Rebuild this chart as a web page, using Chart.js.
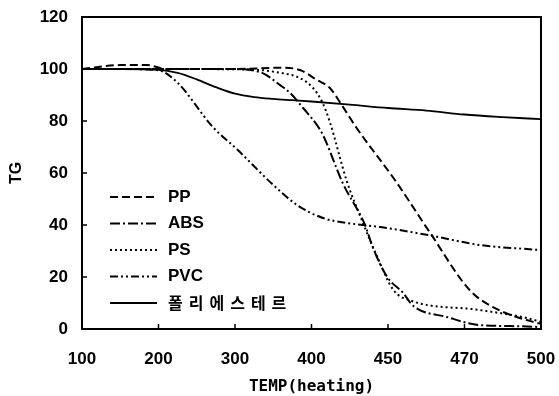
<!DOCTYPE html>
<html>
<head>
<meta charset="utf-8">
<script src="https://cdn.jsdelivr.net/npm/chart.js@4.4.1/dist/chart.umd.min.js"></script>
<style>
    html, body { margin: 0; padding: 0; background: #fff; }
    #wrap { width: 559px; height: 396px; }
</style>
</head>
<body>
<div id="wrap"><canvas id="tgChart" width="559" height="396"></canvas></div>
<script>
// x axis is drawn with equal spacing between these labels (not linear in temperature)
const tempTicks = [100, 200, 300, 400, 450, 470, 500];
const tgTicks = [0, 20, 40, 60, 80, 100, 120];

const seriesNames = ['PP', 'ABS', 'PS', 'PVC', '폴리에스테르'];

// values: temperature / TG (%)
const ppTemp = [100, 150, 185, 210, 250, 300, 359, 385, 403.5, 412, 418.5, 429.5, 451.8, 461, 472, 481, 498.5, 500];
const ppTG   = [100, 101.5, 101.5, 100, 100, 100, 100.5, 99.6, 95.8, 92.7, 87.3, 77.3, 57.3, 37, 15, 8.5, 2.3, 2];

const absTemp = [100, 200, 293, 333, 359, 372, 389, 403.5, 407.5, 420.5, 435, 440, 449.5, 454, 456.5, 465.4, 476, 498.5, 500];
const absTG   = [100, 100, 100, 98.8, 93.8, 90.8, 85, 78.5, 74.6, 56, 40, 31.5, 20, 13.8, 9, 4.6, 1.5, 0.8, 0.5];

const psTemp = [100, 200, 320, 360, 385, 401, 407, 412, 423, 433.5, 443, 451.4, 455.8, 476, 494.6, 500];
const psTG   = [100, 100, 99.8, 98.5, 96.5, 92.7, 87.3, 79.6, 57, 41, 27.7, 15, 11, 7.3, 4.2, 2.7];

const pvcTemp = [100, 150, 200, 224, 271, 303, 350, 381, 407.5, 423, 445, 461, 476, 499, 500];
const pvcTG   = [100, 100, 99.5, 95, 77.7, 69, 55.4, 47.7, 42.7, 40.8, 39.2, 36, 32.3, 30.4, 30.3];

const polyTemp = [100, 150, 200, 225, 250, 275, 300, 325, 350, 375, 400, 425, 450, 460, 470, 485, 500];
const polyTG   = [100, 100, 99.7, 98.5, 96, 93, 90.5, 89.2, 88.5, 88, 87.5, 86.3, 85, 84, 82.5, 81.5, 80.7];

// temperature -> position on the equally spaced tick axis
function toAxis(t) {
    for (let i = 0; i < tempTicks.length - 1; i++) {
        if (t <= tempTicks[i + 1]) {
            return i + (t - tempTicks[i]) / (tempTicks[i + 1] - tempTicks[i]);
        }
    }
    return tempTicks.length - 1;
}

function points(temps, vals) {
    return temps.map((t, k) => ({ x: toAxis(t), y: vals[k] }));
}

const dashes = [[8, 4], [10, 3, 2, 3], [2, 3], [8, 3, 2, 3, 2, 3], []];
const allData = [
    points(ppTemp, ppTG),
    points(absTemp, absTG),
    points(psTemp, psTG),
    points(pvcTemp, pvcTG),
    points(polyTemp, polyTG)
];

const datasets = seriesNames.map((name, i) => ({
    label: name,
    data: allData[i],
    borderColor: '#000',
    borderWidth: i === 4 ? 1.8 : 2,
    borderDash: dashes[i],
    pointRadius: 0,
    fill: false,
    tension: 0.4,
    cubicInterpolationMode: 'monotone'
}));

const FONT = '"Liberation Sans", Arial, sans-serif';

// box round the plot + inward tick marks
const framePlugin = {
    id: 'frame',
    afterDraw(chart) {
        const { ctx, chartArea: a, scales } = chart;
        ctx.save();
        ctx.strokeStyle = '#000';
        ctx.lineWidth = 2;
        ctx.setLineDash([]);
        ctx.strokeRect(a.left, a.top, a.right - a.left, a.bottom - a.top);
        ctx.lineWidth = 1.5;
        ctx.beginPath();
        for (let i = 1; i < tempTicks.length - 1; i++) {
            const x = scales.x.getPixelForValue(i);
            ctx.moveTo(x, a.bottom);
            ctx.lineTo(x, a.bottom - 5);
        }
        tgTicks.slice(1, -1).forEach(v => {
            const y = scales.y.getPixelForValue(v);
            ctx.moveTo(a.left, y);
            ctx.lineTo(a.left + 5, y);
        });
        ctx.stroke();
        ctx.restore();
    }
};

// legend sits inside the plot, lower left
const legendPlugin = {
    id: 'innerLegend',
    afterDraw(chart) {
        const { ctx } = chart;
        ctx.save();
        chart.data.datasets.forEach((ds, i) => {
            const y = 197 + i * 26.5;
            ctx.strokeStyle = '#000';
            ctx.lineWidth = ds.borderWidth;
            ctx.setLineDash(ds.borderDash);
            ctx.beginPath();
            ctx.moveTo(110, y);
            ctx.lineTo(157, y);
            ctx.stroke();
            ctx.fillStyle = '#000';
            ctx.textBaseline = 'middle';
            if (i === 4) {
                ctx.font = 'bold 16px "Noto Sans CJK KR"';
                ctx.letterSpacing = '6px';
            } else {
                ctx.font = 'bold 17px ' + FONT;
                ctx.letterSpacing = '0px';
            }
            ctx.fillText(ds.label, 168, y);
        });
        ctx.restore();
    }
};

new Chart(document.getElementById('tgChart'), {
    type: 'line',
    data: { datasets: datasets },
    options: {
        responsive: false,
        animation: false,
        devicePixelRatio: 1,
        layout: { padding: { top: 17, right: 18, left: 0, bottom: 0 } },
        plugins: {
            legend: { display: false },
            tooltip: { enabled: false }
        },
        scales: {
            x: {
                type: 'linear',
                min: 0,
                max: tempTicks.length - 1,
                grid: { display: false, drawTicks: false },
                border: { display: false },
                ticks: {
                    stepSize: 1,
                    padding: 20,
                    color: '#000',
                    font: { family: FONT, size: 17, weight: 'bold' },
                    callback: v => tempTicks[v]
                },
                title: {
                    display: true,
                    text: 'TEMP(heating)',
                    color: '#000',
                    font: { family: '"DejaVu Sans Mono", monospace', size: 16, weight: 'bold' },
                    padding: { top: 4, bottom: 0 }
                },
                afterFit: s => { s.height = 67; s.paddingLeft = 0; s.paddingRight = 0; }
            },
            y: {
                min: 0,
                max: 120,
                grid: { display: false, drawTicks: false },
                border: { display: false },
                ticks: {
                    stepSize: 20,
                    padding: 14,
                    color: '#000',
                    font: { family: FONT, size: 17, weight: 'bold' }
                },
                title: {
                    display: true,
                    text: 'TG',
                    color: '#000',
                    font: { family: FONT, size: 16, weight: 'bold' },
                    padding: { top: 7, bottom: 0 }
                },
                afterFit: s => { s.width = 82; s.paddingTop = 0; s.paddingBottom = 0; }
            }
        }
    },
    plugins: [framePlugin, legendPlugin]
});
</script>
</body>
</html>
